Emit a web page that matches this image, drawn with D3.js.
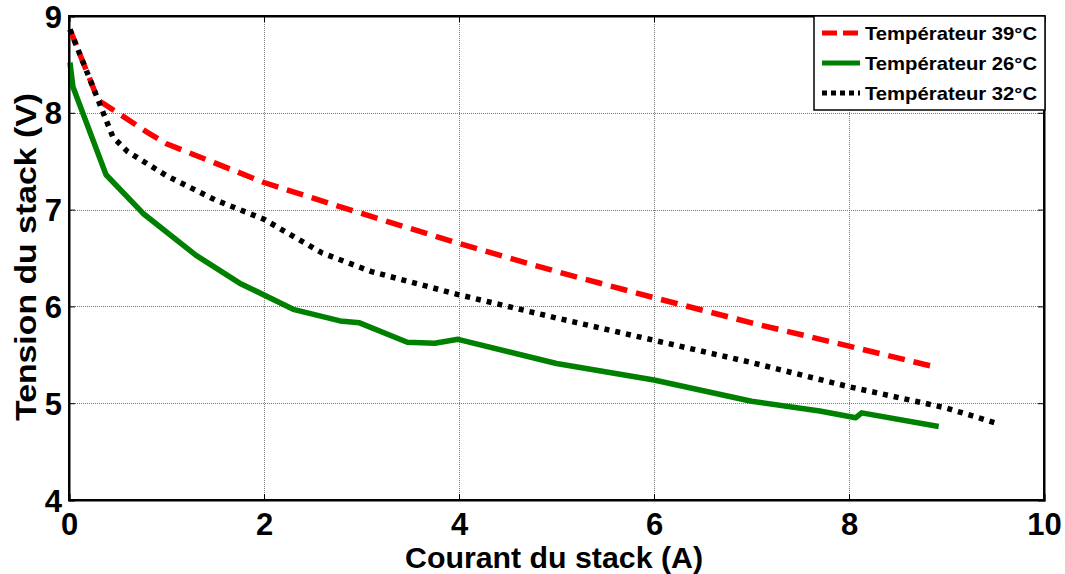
<!DOCTYPE html>
<html>
<head>
<meta charset="utf-8">
<script src="https://cdn.jsdelivr.net/npm/d3@7"></script>
<style>
  html, body { margin: 0; padding: 0; background: #fff; }
  svg { display: block; font-family: Arial, "Liberation Sans", sans-serif; }
</style>
</head>
<body>
<svg id="chart" width="1065" height="574"></svg>
<script>
// Stack current (A) / voltage (V) curves at three temperatures
const current39 = [0.01, 0.3, 0.5, 0.8, 1.0, 1.5, 2.0, 3.0, 4.0, 5.0, 6.0, 7.0, 8.0, 8.9];
const voltage39 = [8.86, 8.13, 8.0, 7.8, 7.68, 7.48, 7.28, 6.96, 6.65, 6.36, 6.09, 5.83, 5.59, 5.37];

const current26 = [0.01, 0.04, 0.38, 0.76, 1.3, 1.75, 2.3, 2.78, 2.98, 3.47, 3.75, 3.99, 5.0, 6.0, 7.0, 7.7, 8.07, 8.13, 8.92];
const voltage26 = [8.52, 8.27, 7.36, 6.96, 6.53, 6.24, 5.97, 5.85, 5.83, 5.63, 5.62, 5.66, 5.41, 5.24, 5.02, 4.92, 4.85, 4.9, 4.76];

const current32 = [0.01, 0.3, 0.45, 0.6, 1.0, 1.5, 2.0, 2.6, 3.1, 4.0, 5.0, 6.0, 7.0, 8.0, 9.0, 9.52];
const voltage32 = [8.86, 8.13, 7.75, 7.6, 7.35, 7.1, 6.9, 6.55, 6.36, 6.12, 5.88, 5.65, 5.42, 5.17, 4.95, 4.79];

const xTicks = [0, 2, 4, 6, 8, 10];
const yTicks = [4, 5, 6, 7, 8, 9];
const seriesNames = ["Températeur 39°C", "Températeur 26°C", "Températeur 32°C"];

const svg = d3.select("#chart");
const plot = { left: 69, top: 16, right: 1044, bottom: 500 };

const x = d3.scaleLinear().domain([0, 10]).range([plot.left, plot.right]);
const y = d3.scaleLinear().domain([4, 9]).range([plot.bottom, plot.top]);

// grid
const grid = svg.append("g").attr("stroke", "#7a7a7a").attr("stroke-width", 1)
  .attr("stroke-dasharray", "1,1").attr("shape-rendering", "crispEdges");
grid.selectAll("line.gx").data(xTicks.slice(1, -1)).join("line")
  .attr("x1", d => Math.round(x(d)) + 0.5).attr("x2", d => Math.round(x(d)) + 0.5)
  .attr("y1", plot.top).attr("y2", plot.bottom);
grid.selectAll("line.gy").data(yTicks.slice(1, -1)).join("line")
  .attr("y1", d => Math.round(y(d)) + 0.5).attr("y2", d => Math.round(y(d)) + 0.5)
  .attr("x1", plot.left).attr("x2", plot.right);

// axes with inward ticks
const xAxis = svg.append("g").attr("transform", `translate(0,${plot.bottom})`)
  .call(d3.axisBottom(x).tickValues(xTicks).tickSize(-6).tickPadding(13).tickFormat(d3.format("d")));
const xAxisTop = svg.append("g").attr("transform", `translate(0,${plot.top})`)
  .call(d3.axisTop(x).tickValues(xTicks).tickSize(-6).tickFormat(""));
const yAxis = svg.append("g").attr("transform", `translate(${plot.left},0)`)
  .call(d3.axisLeft(y).tickValues(yTicks).tickSize(-6).tickPadding(7).tickFormat(d3.format("d")));
const yAxisRight = svg.append("g").attr("transform", `translate(${plot.right},0)`)
  .call(d3.axisRight(y).tickValues(yTicks).tickSize(-6).tickFormat(""));

[xAxis, xAxisTop, yAxis, yAxisRight].forEach(g => {
  g.select(".domain").attr("stroke", "#000").attr("stroke-width", 2);
  g.selectAll(".tick line").attr("stroke", "#000").attr("stroke-width", 1);
  g.selectAll("text").attr("fill", "#000").attr("font-size", 31).attr("font-weight", "bold")
    .attr("font-family", "Arial, 'Liberation Sans', sans-serif");
});
xAxis.selectAll("text").attr("dy", "0.71em");
yAxis.selectAll("text").attr("dy", "0.36em");

// curves
const line = d3.line().x(d => x(d[0])).y(d => y(d[1]));
const series = [
  { xs: current39, ys: voltage39, color: "#ff0000", dash: "17,9" },
  { xs: current26, ys: voltage26, color: "#008000", dash: null },
  { xs: current32, ys: voltage32, color: "#000000", dash: "5,6" }
];
series.forEach(s => {
  svg.append("path")
    .datum(s.xs.map((v, k) => [v, s.ys[k]]))
    .attr("d", line)
    .attr("fill", "none")
    .attr("stroke", s.color)
    .attr("stroke-width", 5.5)
    .attr("stroke-linejoin", "round")
    .attr("stroke-linecap", "butt")
    .attr("stroke-dasharray", s.dash);
});

// redraw frame over the curves
svg.append("rect")
  .attr("x", plot.left).attr("y", plot.top)
  .attr("width", plot.right - plot.left).attr("height", plot.bottom - plot.top)
  .attr("fill", "none").attr("stroke", "#000").attr("stroke-width", 2);

// legend
const legend = svg.append("g");
legend.append("rect")
  .attr("x", 814).attr("y", 16).attr("width", 231).attr("height", 94)
  .attr("fill", "#fff").attr("stroke", "#000").attr("stroke-width", 1.5);
seriesNames.forEach((name, i) => {
  const ly = 33 + i * 30;
  const s = series[i];
  legend.append("line")
    .attr("x1", 822).attr("x2", 860).attr("y1", ly).attr("y2", ly)
    .attr("stroke", s.color).attr("stroke-width", 5)
    .attr("stroke-dasharray", s.dash ? (i === 0 ? "15,6" : "5,4") : null);
  legend.append("text")
    .attr("x", 865).attr("y", ly).attr("dy", "0.36em")
    .attr("font-size", 18.5).attr("font-weight", "bold").attr("fill", "#000")
    .attr("textLength", 172).attr("lengthAdjust", "spacingAndGlyphs")
    .text(name);
});

// axis titles
svg.append("text")
  .attr("x", 554).attr("y", 568)
  .attr("text-anchor", "middle").attr("font-size", 29).attr("font-weight", "bold")
  .attr("textLength", 298).attr("lengthAdjust", "spacingAndGlyphs")
  .text("Courant du stack (A)");
svg.append("text")
  .attr("transform", `translate(36,257) rotate(-90)`)
  .attr("text-anchor", "middle").attr("font-size", 30).attr("font-weight", "bold")
  .attr("textLength", 328).attr("lengthAdjust", "spacingAndGlyphs")
  .text("Tension du stack (V)");
</script>
</body>
</html>
